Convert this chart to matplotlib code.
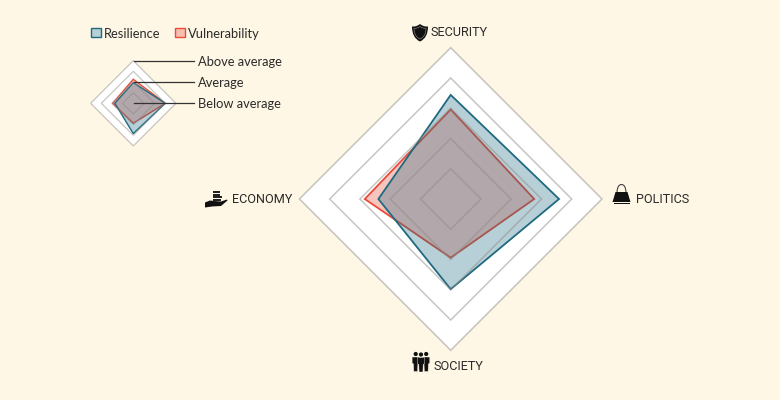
import numpy as np
import matplotlib
matplotlib.use("Agg")
import matplotlib.pyplot as plt
from matplotlib.patches import Polygon, Rectangle, Circle, PathPatch
from matplotlib.path import Path

# order: top, right, bottom, left
categories = ["SECURITY", "POLITICS", "SOCIETY", "ECONOMY"]
rings = [1, 2, 3, 4, 5]
key_rings = [1, 2, 3, 4]
resilience = [3.44, 3.58, 2.98, 2.39]
vulnerability = [2.96, 2.76, 1.94, 2.84]
key_resilience = [1.94, 3.0, 2.84, 1.73]
key_vulnerability = [2.25, 3.0, 1.87, 1.94]
key_labels = ["Above average", "Average", "Below average"]
legend_labels = ["Resilience", "Vulnerability"]

BG = "#fff7e5"
BLUE = "#1f6a80"
RED = "#ea4c3a"
TEXT = "#2a2a2a"
ICON = "#111111"

plt.rcParams["font.family"] = ["Lato", "DejaVu Sans"]

fig = plt.figure(figsize=(7.8, 4.0), dpi=100, facecolor=BG)
ax = fig.add_axes([0, 0, 1, 1])
ax.set_xlim(0, 780)
ax.set_ylim(400, 0)
ax.axis("off")


def diamond(values, cx, cy, unit):
    t, r, b, l = values
    return [(cx, cy - t * unit), (cx + r * unit, cy), (cx, cy + b * unit), (cx - l * unit, cy)]


def radar(res, vul, levels, cx, cy, unit, ring_lw, line_lw):
    top = max(levels)
    ax.add_patch(Polygon(diamond([top] * 4, cx, cy, unit), fc="white", ec="none", zorder=1))
    ax.add_patch(Polygon(diamond(vul, cx, cy, unit), fc=RED, alpha=0.33, ec="none", zorder=2))
    ax.add_patch(Polygon(diamond(vul, cx, cy, unit), fc="none", ec=RED, lw=line_lw, zorder=2.1))
    ax.add_patch(Polygon(diamond(res, cx, cy, unit), fc=BLUE, alpha=0.32, ec="none", zorder=3))
    ax.add_patch(Polygon(diamond(res, cx, cy, unit), fc="none", ec=BLUE, lw=line_lw, zorder=3.1))
    for r in levels:
        ax.add_patch(Polygon(diamond([r] * 4, cx, cy, unit), fc="none", ec="#8f8c88", alpha=0.5,
                             lw=ring_lw, zorder=4))


radar(resilience, vulnerability, rings, 450.7, 199, 30.26, 1.1, 1.3)
radar(key_resilience, key_vulnerability, key_rings, 133.3, 103.3, 10.67, 0.9, 1.0)

# axis labels
caps = dict(fontsize=9.1, color=TEXT, va="center", ha="left", family=["Roboto", "DejaVu Sans"])
ax.text(431, 33, categories[0], **caps)
ax.text(636, 199.5, categories[1], **caps)
ax.text(434, 366, categories[2], **caps)
ax.text(232, 199.5, categories[3], **caps)

# legend
small_font = 9.3
ax.add_patch(Rectangle((90.5, 28), 10, 9, fc="#b5d0d7", ec=BLUE, lw=1))
ax.text(104, 33.5, legend_labels[0], fontsize=small_font, color=TEXT, va="center")
ax.add_patch(Rectangle((175, 28), 10, 9, fc="#f8bfb1", ec=RED, lw=1))
ax.text(188, 33.5, legend_labels[1], fontsize=small_font, color=TEXT, va="center")

# key for the rings
for y, lab in zip([60.5, 82, 103.3], key_labels):
    ax.plot([133.5, 194], [y, y], color="#333333", lw=0.9, zorder=6)
    ax.text(198, y + 1, lab, fontsize=small_font, color=TEXT, va="center")


def shield(cx, top, w, h, **kw):
    hw = w / 2
    verts = [(cx, top),
             (cx + hw * .4, top + h * .14), (cx + hw * .75, top + h * .16), (cx + hw, top + h * .14),
             (cx + hw, top + h * .55), (cx + hw * .7, top + h * .85), (cx, top + h),
             (cx - hw * .7, top + h * .85), (cx - hw, top + h * .55), (cx - hw, top + h * .14),
             (cx - hw * .75, top + h * .16), (cx - hw * .4, top + h * .14), (cx, top)]
    codes = [Path.MOVETO] + [Path.CURVE4] * 12
    ax.add_patch(PathPatch(Path(verts, codes), **kw))


# security icon
shield(420, 24, 16, 17.5, fc=ICON, ec="none", zorder=5)
shield(420, 26.5, 12, 12.5, fc=ICON, ec="#7a7a7a", lw=0.5, zorder=5.1)

# politics icon: bag
ax.add_patch(Polygon([(615.5, 192), (627.5, 192), (630.5, 202), (612.5, 202)], fc=ICON, ec="none"))
ax.add_patch(Rectangle((613.5, 202.6), 16, 1.2, fc=ICON, ec="none"))
handle = Path([(617, 192), (617.5, 184.5), (621.5, 184.5), (625.5, 184.5), (626, 192)],
              [Path.MOVETO, Path.CURVE3, Path.CURVE3, Path.CURVE3, Path.CURVE3])
ax.add_patch(PathPatch(handle, fc="none", ec="#444444", lw=0.8))

# economy icon: hand holding coins
ax.add_patch(Polygon([(205, 202.5), (210, 200.5), (214, 201), (221, 201.5), (227, 199.5), (227.5, 200.5),
                      (221, 206), (212, 206.5), (205, 207.5)], fc=ICON, ec="none"))
for x, y, w in [(213, 191, 7), (213, 193.6, 7), (213, 196.2, 8), (213, 198.6, 8), (219, 196.2, 3)]:
    ax.add_patch(Rectangle((x, y), w, 1.9, fc="#222222", ec="none"))

# society icon: three people
for x, top, sw in [(415.7, 355, 3.6), (426.2, 355, 3.6), (421, 355.5, 3.6)]:
    ax.add_patch(Circle((x, top - 1), 2.1, fc=ICON, ec="none", zorder=5))
    ax.add_patch(Polygon([(x - sw, top + 2), (x + sw, top + 2), (x + sw, top + 8), (x + 2.2, top + 9),
                          (x + 1.9, top + 16.5), (x - 1.9, top + 16.5), (x - 2.2, top + 9), (x - sw, top + 8)],
                         fc=ICON, ec=BG, lw=0.3, zorder=5))

fig.savefig("out.png", dpi=100, facecolor=BG)
